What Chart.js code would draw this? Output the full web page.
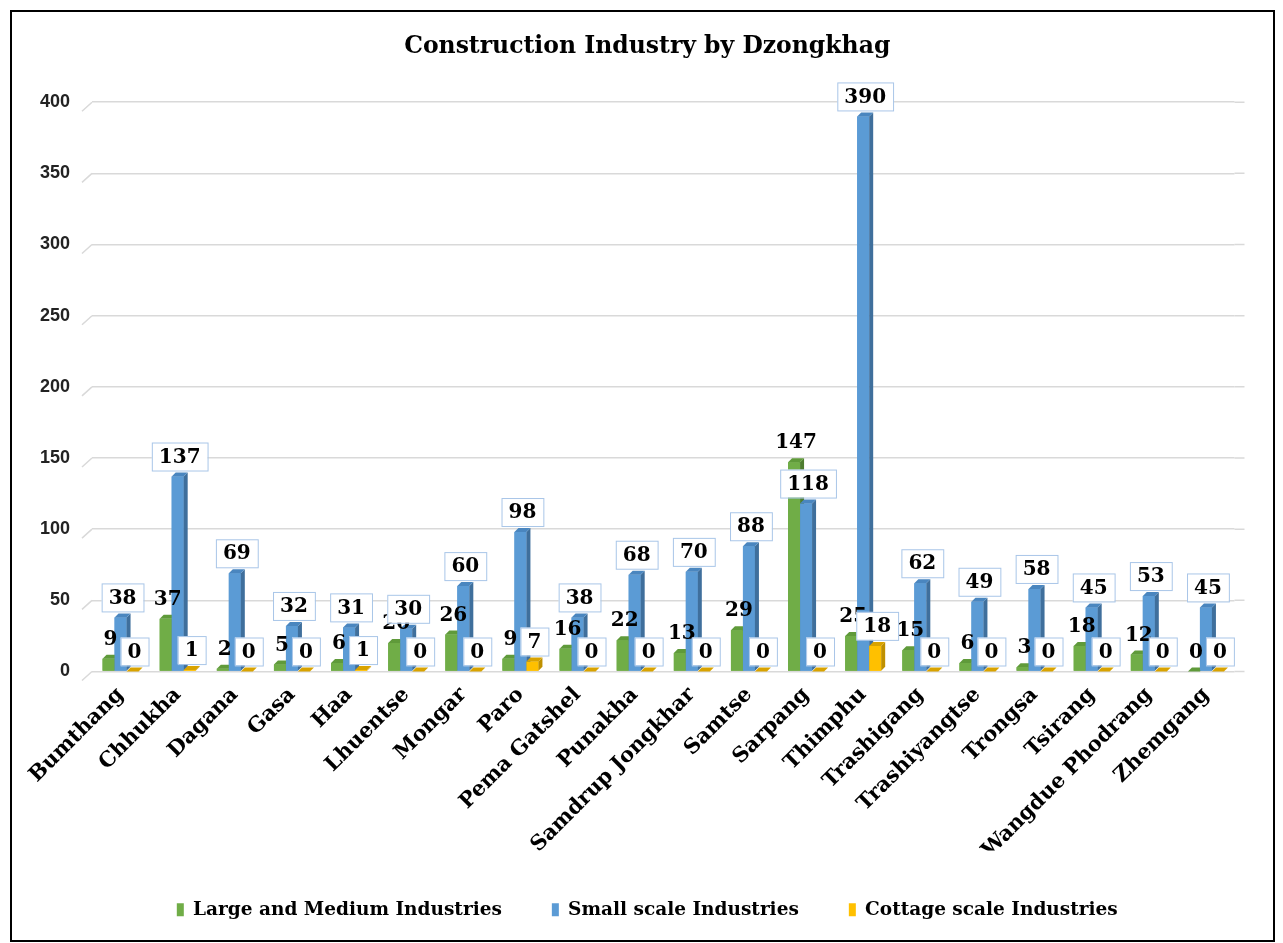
<!DOCTYPE html>
<html>
<head>
<meta charset="utf-8">
<script src="https://cdn.jsdelivr.net/npm/chart.js@4.4.0/dist/chart.umd.min.js"></script>
<style>
body{margin:0;background:#fff;}
#frame{position:absolute;left:10px;top:10px;width:1265px;height:932px;box-sizing:border-box;border:2px solid #000;}
#wrap{position:relative;width:1261px;height:928px;}
</style>
</head>
<body>
<div id="frame"><div id="wrap"><canvas id="canvas"></canvas></div></div>
<script>
// dzongkhags
var dzongkhags = ["Bumthang","Chhukha","Dagana","Gasa","Haa","Lhuentse","Mongar","Paro","Pema Gatshel","Punakha",
    "Samdrup Jongkhar","Samtse","Sarpang","Thimphu","Trashigang","Trashiyangtse","Trongsa","Tsirang","Wangdue Phodrang","Zhemgang"];
var largeMedium = [9,37,2,5,6,20,26,9,16,22,13,29,147,25,15,6,3,18,12,0];
var smallScale  = [38,137,69,32,31,30,60,98,38,68,70,88,118,390,62,49,58,45,53,45];
var cottage     = [0,1,0,0,1,0,0,7,0,0,0,0,0,18,0,0,0,0,0,0];
var yTicks = [0,50,100,150,200,250,300,350,400];

var serif = '"DejaVu Serif", "Liberation Serif", serif';
var DEPTH = 4;

// slanted bit on the left and a short tail on the right of every gridline (3d wall look)
var wallEdge = {
    id: 'wallEdge',
    beforeDatasetsDraw: function(chart){
        var ctx = chart.ctx, y = chart.scales.y, a = chart.chartArea;
        ctx.save();
        ctx.strokeStyle = '#d9d9d9';
        ctx.lineWidth = 1.5;
        y.ticks.forEach(function(t){
            var py = y.getPixelForValue(t.value);
            ctx.beginPath();
            ctx.moveTo(a.left - 10, py + 9);
            ctx.lineTo(a.left, py);
            ctx.moveTo(a.right, py);
            ctx.lineTo(a.right + 10, py);
            ctx.stroke();
        });
        ctx.restore();
    }
};

// redraw bars series by series with side and top faces, so later series cover earlier sides
var bar3d = {
    id: 'bar3d',
    afterDatasetsDraw: function(chart){
        var ctx = chart.ctx;
        ctx.save();
        chart.data.datasets.forEach(function(ds, i){
            var meta = chart.getDatasetMeta(i);
            meta.data.forEach(function(bar){
                var p = bar.getProps(['x','y','base','width'], true);
                var l = p.x - p.width/2, r = p.x + p.width/2;
                bar.draw(ctx);
                ctx.fillStyle = ds.sideColor;
                ctx.beginPath();
                ctx.moveTo(r, p.y); ctx.lineTo(r+DEPTH, p.y-DEPTH);
                ctx.lineTo(r+DEPTH, p.base-DEPTH); ctx.lineTo(r, p.base);
                ctx.closePath(); ctx.fill();
                ctx.fillStyle = ds.topColor;
                ctx.beginPath();
                ctx.moveTo(l, p.y); ctx.lineTo(l+DEPTH, p.y-DEPTH);
                ctx.lineTo(r+DEPTH, p.y-DEPTH); ctx.lineTo(r, p.y);
                ctx.closePath(); ctx.fill();
            });
        });
        ctx.restore();
    }
};

// value labels, boxed for small / cottage
var valueLabels = {
    id: 'valueLabels',
    afterDatasetsDraw: function(chart){
        var ctx = chart.ctx;
        ctx.save();
        ctx.font = 'bold 20px ' + serif;
        ctx.textAlign = 'center';
        ctx.textBaseline = 'middle';
        chart.data.datasets.forEach(function(ds, i){
            var meta = chart.getDatasetMeta(i);
            meta.data.forEach(function(bar, j){
                var txt = String(ds.data[j]);
                var x = bar.x + DEPTH/2;
                var y = bar.y - DEPTH - 16;
                if (ds.boxed){
                    var w = ctx.measureText(txt).width + 14;
                    var h = 28;
                    ctx.fillStyle = '#ffffff';
                    ctx.fillRect(x - w/2, y - h/2, w, h);
                    ctx.strokeStyle = '#a9c6e8';
                    ctx.lineWidth = 1;
                    ctx.strokeRect(x - w/2 + 0.5, y - h/2 + 0.5, w, h);
                }
                ctx.fillStyle = '#000000';
                ctx.fillText(txt, x, y + 1);
            });
        });
        ctx.restore();
    }
};

window.onload = function(){
    var ctx = document.getElementById("canvas").getContext("2d");
    window.myBar = new Chart(ctx, {
        type: 'bar',
        data: {
            labels: dzongkhags,
            datasets: [
                {label: "Large and Medium Industries", data: largeMedium, backgroundColor: '#70ad47',
                    sideColor: '#4e7d30', topColor: '#5f9a3a', boxed: false},
                {label: "Small scale Industries", data: smallScale, backgroundColor: '#5b9bd5',
                    sideColor: '#3f6f9c', topColor: '#4a86bf', boxed: true},
                {label: "Cottage scale Industries", data: cottage, backgroundColor: '#ffc000',
                    sideColor: '#bf9000', topColor: '#d9a300', boxed: true}
            ]
        },
        options: {
            responsive: true,
            maintainAspectRatio: false,
            animation: false,
            categoryPercentage: 0.63,
            barPercentage: 1.0,
            layout: {padding: {left: 28, right: 18.5, top: 0, bottom: 11}},
            plugins: {
                title: {
                    display: true,
                    text: 'Construction Industry by Dzongkhag',
                    color: '#000',
                    font: {family: serif, size: 23.5, weight: 'bold'},
                    padding: {top: 21, bottom: 41}
                },
                legend: {
                    position: 'bottom',
                    labels: {
                        boxWidth: 7, boxHeight: 13, padding: 50, color: '#000',
                        font: {family: serif, size: 18.5, weight: 'bold'}
                    }
                },
                tooltip: {enabled: false}
            },
            scales: {
                x: {
                    grid: {display: false},
                    border: {display: false},
                    ticks: {
                        maxRotation: 45, minRotation: 45, autoSkip: false, color: '#000',
                        font: {family: serif, size: 21, weight: 'bold'}
                    },
                    afterFit: function(scale){ scale.height = 179; }
                },
                y: {
                    min: 0, max: 400,
                    afterBuildTicks: function(scale){
                        scale.ticks = yTicks.map(function(v){ return {value: v}; });
                    },
                    grid: {color: '#d9d9d9', lineWidth: 1.5, drawTicks: false},
                    border: {display: false},
                    ticks: {
                        padding: 22, color: '#222',
                        font: {family: '"Liberation Sans Narrow", "Liberation Sans", sans-serif', size: 18, weight: 'bold'}
                    },
                    afterFit: function(scale){ scale.width = 52; }
                },
                // empty right-hand axis, only there as a margin so title/legend sit where they did
                yRight: {
                    position: 'right',
                    min: 0, max: 400,
                    grid: {display: false},
                    border: {display: false},
                    ticks: {display: false},
                    afterFit: function(scale){ scale.width = 20; }
                }
            }
        },
        plugins: [wallEdge, bar3d, valueLabels]
    });
};
</script>
</body>
</html>
